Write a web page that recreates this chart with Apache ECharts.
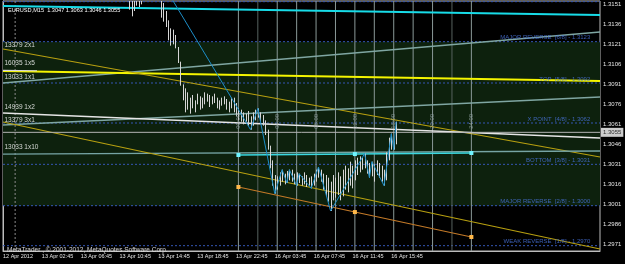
<!DOCTYPE html>
<html><head><meta charset="utf-8">
<script src="https://cdn.jsdelivr.net/npm/echarts@6/dist/echarts.min.js"></script>
<style>html,body{margin:0;padding:0;background:#000;}#c{width:625px;height:264px;}</style>
</head><body><div id="c"></div>
<script>
// ---------- data ----------
const chartTitle = 'EURUSD,M15  1.3047 1.3063 1.3046 1.3055';
const copyright = 'MetaTrader , \u00A9 2001-2012, MetaQuotes Software Corp.';
const timeLabelBars = [0, 16, 32, 48, 64, 80, 96, 112, 128, 144, 160];
const timeLabels = ['12 Apr 2012', '13 Apr 02:45', '13 Apr 06:45', '13 Apr 10:45', '13 Apr 14:45',
  '13 Apr 18:45', '13 Apr 22:45', '16 Apr 03:45', '16 Apr 07:45', '16 Apr 11:45', '16 Apr 15:45'];
const priceTicks = [1.2971, 1.2986, 1.3001, 1.3016, 1.3031, 1.3046, 1.3061, 1.3076, 1.3091, 1.3106, 1.3121, 1.3136, 1.3151];
const lastPrice = 1.3055;
const totalBars = 246;

const firstBar = 52;
const barHigh = [1.3160, 1.3158, 1.3157, 1.3160, 1.3158, 1.3159, null, null, null, null, null, null,
  1.3172, 1.3160, 1.3152, 1.3146, 1.3139, 1.3133, 1.3132, 1.3128, 1.3119, 1.3108, 1.3091, 1.3088,
  1.3085, 1.3081, 1.3083, 1.3079, 1.3084, 1.3082, 1.3081, 1.3085, 1.3084, 1.3083, 1.3082, 1.3084,
  1.3081, 1.3079, 1.3081, 1.3082, 1.3080, 1.3078, 1.3081, 1.3081, 1.3077,
  1.3073, 1.3072, 1.3070, 1.3069, 1.3071, 1.3067, 1.3070, 1.3072, 1.3073, 1.3070, 1.3068, 1.3064,
  1.3057, 1.3045, 1.3034, 1.3023, 1.3022, 1.3025, 1.3027, 1.3024, 1.3026, 1.3027, 1.3027, 1.3024,
  1.3025, 1.3024, 1.3022, 1.3025, 1.3023, 1.3021, 1.3022, 1.3024, 1.3027, 1.3029, 1.3027, 1.3024,
  1.3023, 1.3021, 1.3018, 1.3023, 1.3021, 1.3025, 1.3022, 1.3027, 1.3030, 1.3028, 1.3033, 1.3030,
  1.3034, 1.3036, 1.3037, 1.3036, 1.3039, 1.3034, 1.3032, 1.3033, 1.3031, 1.3034, 1.3032, 1.3030,
  1.3027, 1.3040, 1.3051, 1.3054, 1.3049, 1.3063];
const barLow = [1.3147, 1.3142, 1.3146, 1.3150, 1.3149, 1.3151, null, null, null, null, null, null,
  1.3155, 1.3141, 1.3138, 1.3134, 1.3124, 1.3120, 1.3121, 1.3118, 1.3107, 1.3090, 1.3079, 1.3070,
  1.3072, 1.3069, 1.3073, 1.3070, 1.3076, 1.3072, 1.3073, 1.3076, 1.3078, 1.3074, 1.3076, 1.3077,
  1.3073, 1.3072, 1.3075, 1.3076, 1.3072, 1.3070, 1.3073, 1.3070, 1.3067,
  1.3064, 1.3063, 1.3061, 1.3063, 1.3060, 1.3057, 1.3060, 1.3064, 1.3066, 1.3063, 1.3060, 1.3053,
  1.3042, 1.3028, 1.3015, 1.3009, 1.3012, 1.3015, 1.3018, 1.3016, 1.3017, 1.3019, 1.3018, 1.3016,
  1.3015, 1.3017, 1.3015, 1.3016, 1.3014, 1.3015, 1.3013, 1.3015, 1.3018, 1.3021, 1.3018, 1.3012,
  1.3007, 1.3003, 1.2996, 1.3004, 1.3006, 1.3008, 1.3004, 1.3007, 1.3012, 1.3010, 1.3015, 1.3013,
  1.3019, 1.3023, 1.3025, 1.3027, 1.3028, 1.3024, 1.3021, 1.3022, 1.3018, 1.3023, 1.3021, 1.3018,
  1.3015, 1.3019, 1.3034, 1.3042, 1.3042, 1.3046];

const zigzag = [[64, 1.3172], [102, 1.3057], [105, 1.3073], [112, 1.3009], [115, 1.3027], [117, 1.3017],
  [118, 1.3027], [121, 1.3015], [122, 1.3024], [127, 1.3013], [130, 1.3029], [135, 1.2996], [149, 1.3039],
  [151, 1.3021], [152, 1.3033], [157, 1.3015], [160, 1.3054], [161, 1.3042], [162, 1.3063]];

// trend / Gann lines [bar, price]
const cyanTopLine = [[0, 1.31497], [246, 1.31430]];
const gann1x1 = [[0, 1.30920], [246, 1.31302]];
const topYellowLine = [[0, 1.31010], [246, 1.30935]];
const gann1x5 = [[0, 1.31015], [14, 1.31012]];
const gann2x1 = [[0, 1.31175], [246, 1.30365]];
const tealRisingLine = [[0, 1.30605], [246, 1.30815]];
const gann1x2 = [[0, 1.30695], [246, 1.30507]];
const gann1x10 = [[0, 1.30387], [246, 1.30410]];
const gann3x1 = [[0, 1.30627], [246, 1.29675]];
const orangeLine = [[97, 1.30140], [145, 1.29952], [193, 1.29765]];
const cyanPivotLine = [[97, 1.30380], [145, 1.30387], [193, 1.30395]];

const gannLabels = [['13379 2x1', 1.31200], ['16035 1x5', 1.31070], ['13033 1x1', 1.30965],
  ['14939 1x2', 1.30740], ['13379 3x1', 1.30642], ['13033 1x10', 1.30440]];
const gannLabelBar = 0.6;

const murrayLevels = [1.3153, 1.3123, 1.3092, 1.3062, 1.3031, 1.3000, 1.2970];
const murrayNames = ['', 'MAJOR REVERSE  [6/8] - 1.3123', 'TOP  [5/8] - 1.3092', 'X POINT  [4/8] - 1.3062',
  'BOTTOM  [3/8] - 1.3031', 'MAJOR REVERSE  [2/8] - 1.3000', 'WEAK REVERSE  [1/8] - 1.2970'];
const murrayLabelBar = 242;
const rangeZone = [1.3123, 1.3000];

const hourLineBars = [97, 105, 113, 121, 129, 137, 145, 153, 161, 169, 177, 185, 193];
const hourLineDark = [105, 185];
const hourLabelBars = [97, 113, 129, 145, 161, 177, 193];
const hourLabels = ['00:00', '04:00', '08:00', '12:00', '16:00', '20:00', '24:00'];
const hourLabelPrice = 1.3067;
const daySeparatorBars = [5];

// ---------- chart ----------
const FONT = 'Liberation Sans';
const chart = echarts.init(document.getElementById('c'));
const yMin = 1.2966, yMax = 1.31535;

const candleData = [];
barHigh.forEach((h, i) => { if (h != null) candleData.push([firstBar + i, barLow[i], h]); });

function lineSeries(data, color, width, z, extra) {
  return Object.assign({
    type: 'line', data, symbol: 'none', silent: true, z: z || 3, animation: false,
    lineStyle: { color, width }
  }, extra || {});
}

const series = [];
series.push({
  type: 'line', data: [[0, rangeZone[0]], [totalBars, rangeZone[0]]], symbol: 'none', silent: true, z: 1,
  lineStyle: { width: 0, opacity: 0 },
  markArea: { silent: true, itemStyle: { color: '#0d210d' }, data: [[{ yAxis: rangeZone[0], xAxis: 0 }, { yAxis: rangeZone[1], xAxis: totalBars }]] }
});
murrayLevels.forEach(v => series.push(lineSeries([[0, v], [totalBars, v]], '#3152ac', 1, 2, { lineStyle: { color: '#3456b4', width: 1, type: [2, 2] } })));
daySeparatorBars.forEach(b => series.push(lineSeries([[b, yMin], [b, yMax]], '#8a8a8a', 1, 2, { lineStyle: { color: '#8a8a8a', width: 1, type: [2, 2] } })));
hourLineBars.forEach(b => series.push(lineSeries([[b, yMin], [b, yMax]], hourLineDark.includes(b) ? '#56625f' : '#8a9998', 1, 2)));

series.push(
  lineSeries(cyanTopLine, '#18dce8', 2, 3),
  lineSeries(gann1x1, '#7fa6a2', 1.5, 3),
  lineSeries(topYellowLine, '#f4f400', 2, 3),
  lineSeries(gann1x5, '#d8d8d8', 1.2, 3),
  lineSeries(gann2x1, '#b8a010', 1.2, 3),
  lineSeries(tealRisingLine, '#7fa6a2', 1.3, 3),
  lineSeries(gann1x2, '#e6e6e6', 1.6, 3),
  lineSeries(gann1x10, '#76a4a4', 1.3, 3),
  lineSeries(gann3x1, '#b8a010', 1.1, 3),
  lineSeries(orangeLine, '#c47a28', 1.1, 4, { symbol: 'rect', symbolSize: 4, showSymbol: true, itemStyle: { color: '#ffb84a' } }),
  lineSeries(cyanPivotLine, '#3ad8e0', 1.5, 4, { symbol: 'rect', symbolSize: 4, showSymbol: true, itemStyle: { color: '#6ff4ff' } }),
  lineSeries([[0, lastPrice], [totalBars, lastPrice]], '#b4b4b4', 1, 4),
  {
    type: 'custom', z: 5, clip: true, silent: true, data: candleData,
    renderItem: (params, api) => {
      const a = api.coord([api.value(0), api.value(1)]);
      const b = api.coord([api.value(0), api.value(2)]);
      const x = Math.round(a[0]) + 0.5;
      return { type: 'line', shape: { x1: x, y1: a[1], x2: x, y2: b[1] }, style: { stroke: '#d6d6d6', lineWidth: 1 } };
    }
  },
  lineSeries(zigzag, '#1d8ec8', 1, 6),
  {
    type: 'scatter', symbolSize: 0, silent: true, z: 7,
    data: gannLabels.map(g => ({ value: [gannLabelBar, g[1]], name: g[0] })),
    label: { show: true, position: 'right', distance: 0, formatter: '{b}', color: '#ffffff', fontSize: 6.5, fontFamily: FONT }
  },
  {
    type: 'scatter', symbolSize: 0, silent: true, z: 7,
    data: murrayLevels.map((v, i) => ({ value: [murrayLabelBar, v], name: murrayNames[i] })).filter(d => d.name),
    label: { show: true, position: 'left', distance: 0, offset: [0, -4], formatter: '{b}', color: '#4a76e0', fontSize: 6, fontFamily: FONT }
  },
  {
    type: 'scatter', symbolSize: 0, silent: true, z: 7,
    data: hourLabelBars.map((v, i) => ({ value: [v, hourLabelPrice], name: hourLabels[i] })),
    label: { show: true, position: 'inside', rotate: 90, offset: [-5, 0], formatter: '{b}', color: '#94a4a4', fontSize: 6, fontFamily: FONT }
  },
  {
    type: 'scatter', symbolSize: 0, silent: true, z: 8, clip: false,
    data: [{ value: [totalBars, lastPrice], name: lastPrice.toFixed(4) }],
    label: { show: true, position: 'right', distance: 1, formatter: '{b}', color: '#000', backgroundColor: '#ffffff', padding: [2, 2, 1, 2], fontSize: 6, fontFamily: FONT }
  }
);

const option = {
  backgroundColor: '#000000',
  animation: false,
  title: [
    { text: chartTitle, left: 3, top: 2, textStyle: { color: '#ffffff', fontSize: 5.6, fontWeight: 'normal', fontFamily: FONT } },
    { text: copyright, left: 2, top: 242, textStyle: { color: '#d8d8d8', fontSize: 6.5, fontWeight: 'normal', fontFamily: FONT } }
  ],
  grid: { left: 1, right: 25, top: 1, bottom: 13, show: true, borderColor: '#bcbcbc', borderWidth: 1, backgroundColor: 'transparent' },
  xAxis: {
    type: 'value', min: 0, max: totalBars,
    axisLine: { show: true, lineStyle: { color: '#bcbcbc' } },
    axisTick: { show: false },
    splitLine: { show: false },
    axisLabel: {
      customValues: timeLabelBars, align: 'left', margin: 2, color: '#e4e4e4', fontSize: 5.5, fontFamily: FONT,
      formatter: v => timeLabels[timeLabelBars.indexOf(Math.round(v))] || ''
    }
  },
  yAxis: {
    type: 'value', position: 'right', min: yMin, max: yMax,
    axisLine: { show: true, lineStyle: { color: '#bcbcbc' } },
    axisTick: { show: false },
    splitLine: { show: false },
    axisLabel: {
      customValues: priceTicks, margin: 3, color: '#e4e4e4', fontSize: 6, fontFamily: FONT,
      formatter: v => v.toFixed(4)
    }
  },
  series
};
chart.setOption(option);
</script>
</body></html>
